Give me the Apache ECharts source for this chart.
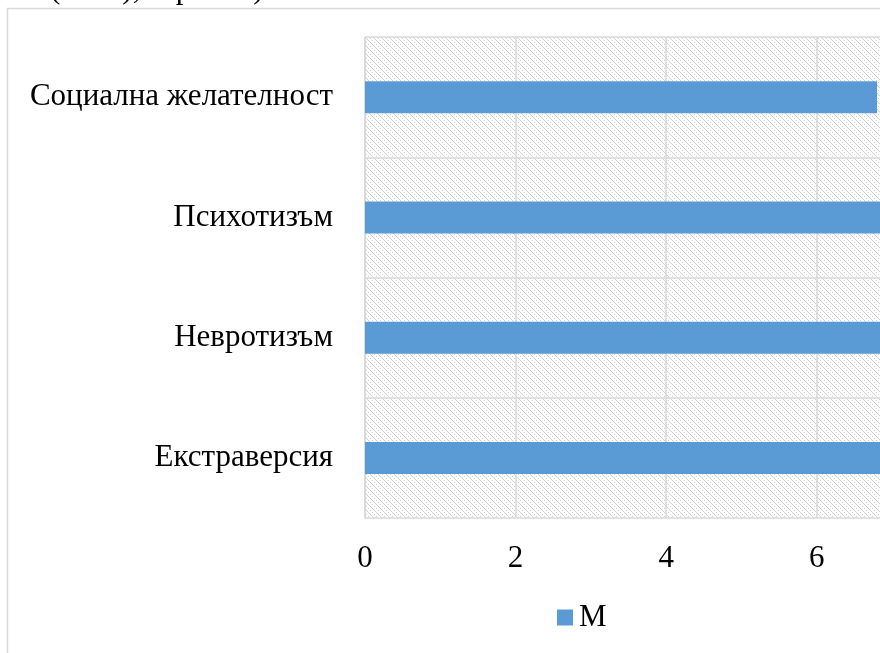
<!DOCTYPE html>
<html>
<head>
<meta charset="utf-8">
<script src="https://cdn.jsdelivr.net/npm/echarts@6/dist/echarts.min.js"></script>
<style>
html,body{margin:0;padding:0;background:#fff;overflow:hidden;width:880px;height:653px;}
#c{position:absolute;left:0;top:0;width:1170px;height:700px;}
</style>
</head>
<body>
<div id="c"></div>
<script>
// Data (bottom to top)
const categories = ['Екстраверсия', 'Невротизъм', 'Психотизъм', 'Социална желателност'];
const seriesName = 'M';
const values = [9.3, 8.8, 7.9, 6.8];
const xTicks = [0, 2, 4, 6, 8, 10];

// hatch pattern
const pc = document.createElement('canvas');
pc.width = 8; pc.height = 8;
const pctx = pc.getContext('2d');
pctx.fillStyle = '#ffffff';
pctx.fillRect(0, 0, 8, 8);
pctx.fillStyle = '#d0d0d0';
for (let y = 0; y < 8; y++) {
  for (let x = 0; x < 8; x++) {
    const d = (x - y + 16) % 8;
    if (d === 0 || (d === 4 && y % 2 === 0)) pctx.fillRect(x, y, 1, 1);
  }
}

const chart = echarts.init(document.getElementById('c'), null, {renderer: 'canvas'});
const font = '"Liberation Serif", "Times New Roman", serif';
const fs = 31;
chart.setOption({
  animation: false,
  textStyle: {fontFamily: font},
  graphic: [
    {type: 'rect', shape: {x: 7.5, y: 8.5, width: 1150, height: 700}, style: {fill: 'none', stroke: '#d9d9d9', lineWidth: 1.5}, z: 0},
    {type: 'text', left: 50, top: -26, style: {text: '(2003), стр. 123)', font: fs + 'px ' + font, fill: '#000'}}
  ],
  grid: {
    left: 365, top: 37, width: 753, height: 481,
    show: true,
    backgroundColor: {image: pc, repeat: 'repeat'},
    borderWidth: 0
  },
  legend: {
    data: [seriesName],
    left: 557,
    top: 602,
    padding: 0,
    itemWidth: 16, itemHeight: 16,
    itemGap: 6,
    icon: 'rect',
    textStyle: {fontSize: fs, color: '#000', fontFamily: font, padding: [0,0,0,1]}
  },
  xAxis: {
    type: 'value',
    min: 0, max: 10, interval: 2,
    axisLine: {show: false},
    axisTick: {show: false},
    axisLabel: {fontSize: fs, color: '#000', margin: 25, fontFamily: font,
      formatter: v => xTicks.includes(v) ? String(v) : ''},
    splitLine: {show: true, lineStyle: {color: '#d9d9d9', width: 1.5}}
  },
  yAxis: {
    type: 'category',
    data: categories,
    boundaryGap: true,
    axisLine: {show: true, lineStyle: {color: '#d9d9d9', width: 1.5}},
    axisTick: {show: false},
    axisLabel: {fontSize: fs, color: '#000', margin: 32, fontFamily: font},
    splitLine: {show: true, lineStyle: {color: '#d9d9d9', width: 1.5}}
  },
  series: [{
    name: seriesName,
    type: 'bar',
    data: values,
    barWidth: 32,
    itemStyle: {color: '#5b9bd5'}
  }]
});
</script>
</body>
</html>
